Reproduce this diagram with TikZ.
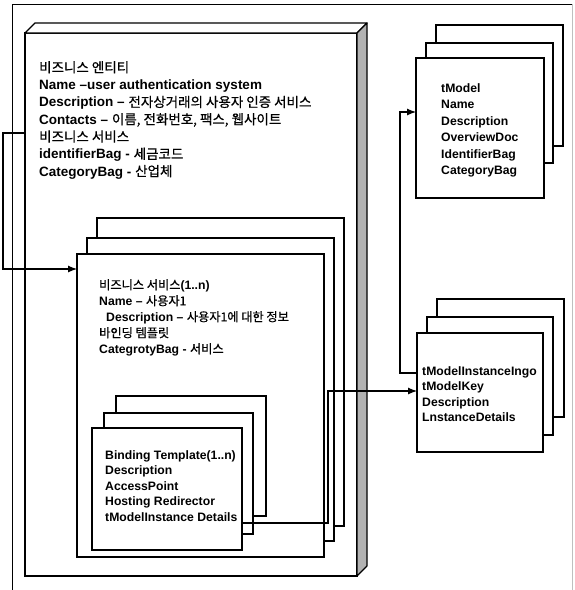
\documentclass[tikz,border=0pt]{standalone}
\usepackage{fontspec}
\setmainfont{Liberation Sans}
\newfontfamily\krfont[FakeBold=0.6]{Noto Sans CJK KR}
\newcommand{\kor}[1]{{\krfont\mdseries #1}}
\usetikzlibrary{arrows.meta}
\begin{document}
\begin{tikzpicture}[x=1pt,y=-1pt,
  box/.style={draw, line width=1.1pt, fill=white, anchor=north west, inner sep=0pt, outer sep=0pt},
  txt/.style={anchor=north west, inner sep=0pt, align=left, font=\bfseries\fontsize{12.2}{15.5}\selectfont},
  conn/.style={line width=1.1pt, -{Latex[length=9pt,width=7pt]}}]
\useasboundingbox (0,0) rectangle (574,590);
% outer frame
\draw[line width=0.9pt] (12,590) -- (12,4) -- (572,4);
\draw[gray!50, line width=0.6pt] (572,4) -- (572,590);
% business entity 3D box
\node[box, line width=1.4pt, minimum width=332pt, minimum height=543pt] (entity) at (25,33) {};
\filldraw[fill=white, line width=1.4pt, line join=round] (entity.north west) -- ++(10,-10) -- ++(332,0) -- (entity.north east) -- cycle;
\filldraw[fill=gray!60, line width=1.1pt, line join=round] (entity.north east) -- ++(10,-10) -- ++(0,543) -- (entity.south east) -- cycle;
\node[txt, font=\bfseries\fontsize{13.5}{17.3}\selectfont] (entitytext) at (39,61) {\kor{비즈니스 엔티티}\\
Name –user authentication system\\
Description – \kor{전자상거래의 사용자 인증 서비스}\\
Contacts – \kor{이름, 전화번호, 팩스, 웹사이트}\\
\kor{비즈니스 서비스}\\
identifierBag - \kor{세금코드}\\
CategoryBag - \kor{산업체}};
% business service stack
\node[box, minimum width=247pt, minimum height=308pt] (s3) at (97,218) {};
\node[box, minimum width=247pt, minimum height=303pt] (s2) at (87,238) {};
\node[box, line width=1.3pt, minimum width=247pt, minimum height=303pt] (service) at (77,254) {};
\node[txt, font=\bfseries\fontsize{12.2}{16}\selectfont] (servicetext) at (99,279) {\kor{비즈니스 서비스}(1..n)\\
Name – \kor{사용자1}\\
\hspace{7pt}Description – \kor{사용자1에 대한 정보}\\
\kor{바인딩 템플릿}\\
CategrotyBag - \kor{서비스}};
% binding template stack
\node[box, minimum width=150pt, minimum height=120pt] (b3) at (116,396) {};
\node[box, minimum width=149pt, minimum height=121pt] (b2) at (104,413) {};
\node[box, minimum width=150pt, minimum height=122pt] (b1) at (92,428) {};
\node[txt] (bindtext) at (105,450) {Binding Template(1..n)\\
Description\\
AccessPoint\\
Hosting Redirector\\
tModelInstance Details};
% tModel stack
\node[box, minimum width=127pt, minimum height=121pt] (t3) at (436,25) {};
\node[box, minimum width=127pt, minimum height=120pt] (t2) at (426,43) {};
\node[box, minimum width=128pt, minimum height=140pt] (t1) at (416,58) {};
\node[txt, font=\bfseries\fontsize{12.2}{16.5}\selectfont] (tmodeltext) at (441,83) {tModel\\
Name\\
Description\\
OverviewDoc\\
IdentifierBag\\
CategoryBag};
% tModelInstanceInfo stack
\node[box, minimum width=127pt, minimum height=118pt] (m3) at (437,299) {};
\node[box, minimum width=126pt, minimum height=118pt] (m2) at (427,317) {};
\node[box, minimum width=126pt, minimum height=119pt] (m1) at (417,333) {};
\node[txt] (tmitext) at (422,366) {tModelInstanceIngo\\
tModelKey\\
Description\\
LnstanceDetails};
% connectors
\draw[conn] (entity.west |- 0,133) -- (3,133) |- (service.west |- 0,269);
\draw[conn] (b1.east |- 0,523) -- (328,523) |- (m1.west |- 0,391);
\draw[conn] (m1.west |- 0,373) -- (400,373) |- (t1.west |- 0,112);
\end{tikzpicture}
\end{document}
